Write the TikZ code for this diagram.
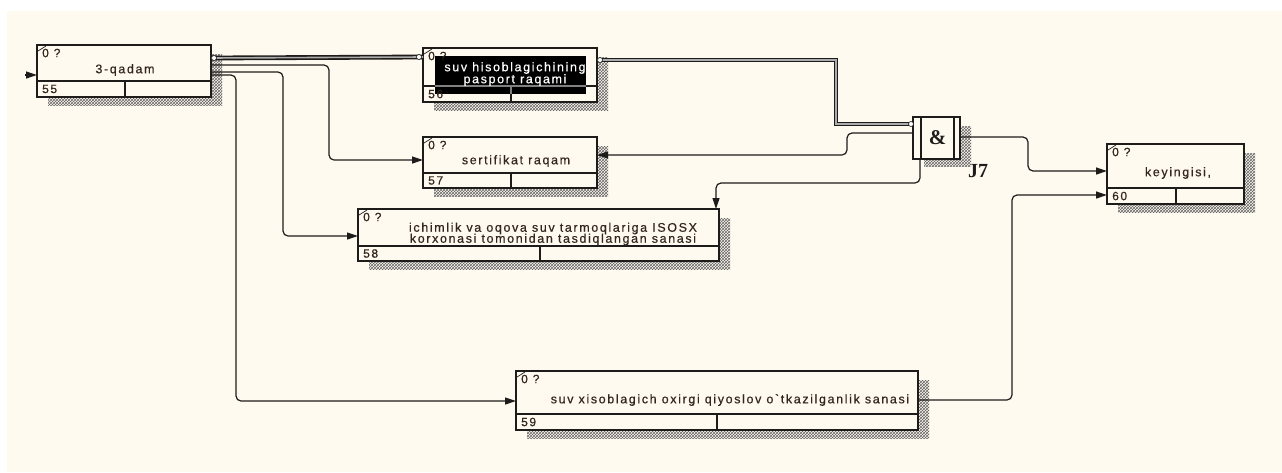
\documentclass[tikz,border=0pt]{standalone}
\usepackage{fontspec}
\setmainfont{Liberation Sans}
\newfontfamily\boxfont[LetterSpace=13,FakeBold=0.4]{Liberation Sans}
\newfontfamily\glyphfont{Liberation Serif}
\usetikzlibrary{arrows.meta,patterns}

\definecolor{paper}{RGB}{255,250,240}
\definecolor{ink}{RGB}{30,28,26}
\definecolor{txt}{RGB}{50,38,30}

\tikzset{
  box/.style={draw=ink, line width=1.4pt, fill=paper, anchor=north west,
              inner sep=0pt, outer sep=0pt},
  shade/.style={pattern=crosshatch, pattern color=black!60},
  divider/.style={draw=ink, line width=1.4pt},
  tag/.style={anchor=west, inner sep=0pt, text=txt,
              font=\boxfont\fontsize{12}{13}\selectfont},
  lab/.style={inner sep=0pt, text=txt, align=center,
              font=\boxfont\fontsize{12.5}{14}\selectfont},
  arr/.style={draw=ink, line width=1.2pt, rounded corners=5pt,
              -{Triangle[length=11pt,width=7pt]}},
  dbl/.style={draw=ink, line width=1.6pt, double=gray!65, double distance=1.6pt},
  port/.style={circle, draw=ink, fill=white, line width=0.6pt,
               inner sep=0pt, minimum size=5pt},
}

% activity box: name, left, top, right, bottom, divider y, divider x
\newcommand\actbox[7]{%
  \fill[shade] (#2+11,#3+9) rectangle (#4+11,#5+8);
  \node[box, minimum width={(#4-#2)*1pt}, minimum height={(#5-#3)*1pt}] (#1) at (#2,#3) {};
  \draw[divider] (#2,#6) -- (#4,#6) (#7,#6) -- (#7,#5);
  \draw[ink, line width=0.7pt] (#2+1,#3+6) -- (#2+9,#3+1);
}
% "0 ?" tag and box number: name, left, top, divider y, bottom, number
\newcommand\acttags[6]{%
  \node[tag] (#1-q) at (#2+5,#3+8) {0 ?};
  \node[tag] (#1-n) at (#2+5,{(#4+#5)/2}) {#6};
}

\begin{document}
\begin{tikzpicture}[x=1pt,y=-1pt]
  \useasboundingbox (0,0) rectangle (1282,472);
  \fill[white] (0,0) rectangle (1282,472);
  \fill[paper] (7,11) rectangle (1282,472);

  % boxes
  \actbox{b55}{37}{45}{211}{97}{81}{125}
  \acttags{b55}{37}{45}{81}{97}{55}
  \node[lab] (t55) at (125,70) {3-qadam};

  \actbox{b56}{423}{48}{597}{102}{86}{511}
  \fill[black] (435,56) rectangle (586,94);
  \draw[gray, line width=1.2pt] (435,86) -- (586,86) (511,86) -- (511,94);
  \acttags{b56}{423}{48}{86}{102}{56}
  \node[lab, text=white] (t56) at (515,74) {suv hisoblagichining\\[-2pt]pasport raqami};

  \actbox{b57}{423}{137}{597}{188}{173}{511}
  \acttags{b57}{423}{137}{173}{188}{57}
  \node[lab] (t57) at (516,161) {sertifikat raqam};

  \actbox{b58}{358}{209}{719}{261}{246}{540}
  \acttags{b58}{358}{209}{246}{261}{58}
  \node[lab] (t58) at (553,234) {ichimlik va oqova suv tarmoqlariga ISOSX\\[-3pt]korxonasi tomonidan tasdiqlangan sanasi};

  \actbox{b59}{516}{371}{918}{430}{414}{717}
  \acttags{b59}{516}{371}{414}{430}{59}
  \node[lab] (t59) at (730,400) {suv xisoblagich oxirgi qiyoslov o`tkazilganlik sanasi};

  \actbox{b60}{1107}{144}{1244}{204}{188}{1176}
  \acttags{b60}{1107}{144}{188}{204}{60}
  \node[lab] (t60) at (1178,173) {keyingisi,};

  % junction J7
  \fill[shade] (924,126) rectangle (971,166);
  \node[box, minimum width=47pt, minimum height=42pt] (j7) at (913,117) {};
  \draw[divider] (921,117) -- (921,159) (954,117) -- (954,159);
  \node[inner sep=0pt, text=ink, font=\glyphfont\bfseries\fontsize{21}{21}\selectfont] (amp) at (937.5,138) {\&};
  \node[inner sep=0pt, text=ink, font=\glyphfont\bfseries\fontsize{20}{20}\selectfont] (j7l) at (978,171) {J7};

  % incoming stub
  \coordinate (in55) at (25,75);
  \draw[arr] (in55) -- (in55 -| b55.west);

  % double (bundled) lines
  \draw[dbl] ([yshift=-13pt]b55.north east) -- ([yshift=-9pt]b56.north west);
  \draw[dbl, rounded corners=0pt] ([yshift=-12pt]b56.north east) -- ++(239,0) |- ([yshift=-7pt]j7.north west);
  \node[port] (p1) at ([xshift=3pt,yshift=-13pt]b55.north east) {};
  \node[port] (p2) at ([xshift=-4pt,yshift=-9pt]b56.north west) {};
  \node[port] (p3) at ([xshift=3pt,yshift=-12pt]b56.north east) {};
  \node[port] (p4) at ([xshift=-2pt,yshift=-7pt]j7.north west) {};

  % fan-out from 3-qadam
  \draw[arr] ([yshift=-20pt]b55.north east) -- ++(118,0) |- ([yshift=-23pt]b57.north west);
  \draw[arr] ([yshift=-27pt]b55.north east) -- ++(72,0) |- ([yshift=-27pt]b58.north west);
  \draw[arr] ([yshift=-30pt]b55.north east) -- ++(25,0) |- ([yshift=-30pt]b59.north west);

  % from junction
  \draw[arr] ([yshift=-16pt]j7.north west) -- ++(-66,0) |- ([yshift=-18pt]b57.north east);
  \draw[arr] ([xshift=7pt]j7.south west) -- ++(0,24) -| ([xshift=-3pt]b58.north east);
  \draw[arr] ([yshift=-20pt]j7.north east) -- ++(68,0) |- ([yshift=-27pt]b60.north west);

  % into keyingisi
  \draw[arr] ([yshift=-29pt]b59.north east) -- ++(94,0) |- ([yshift=-51pt]b60.north west);
\end{tikzpicture}
\end{document}
